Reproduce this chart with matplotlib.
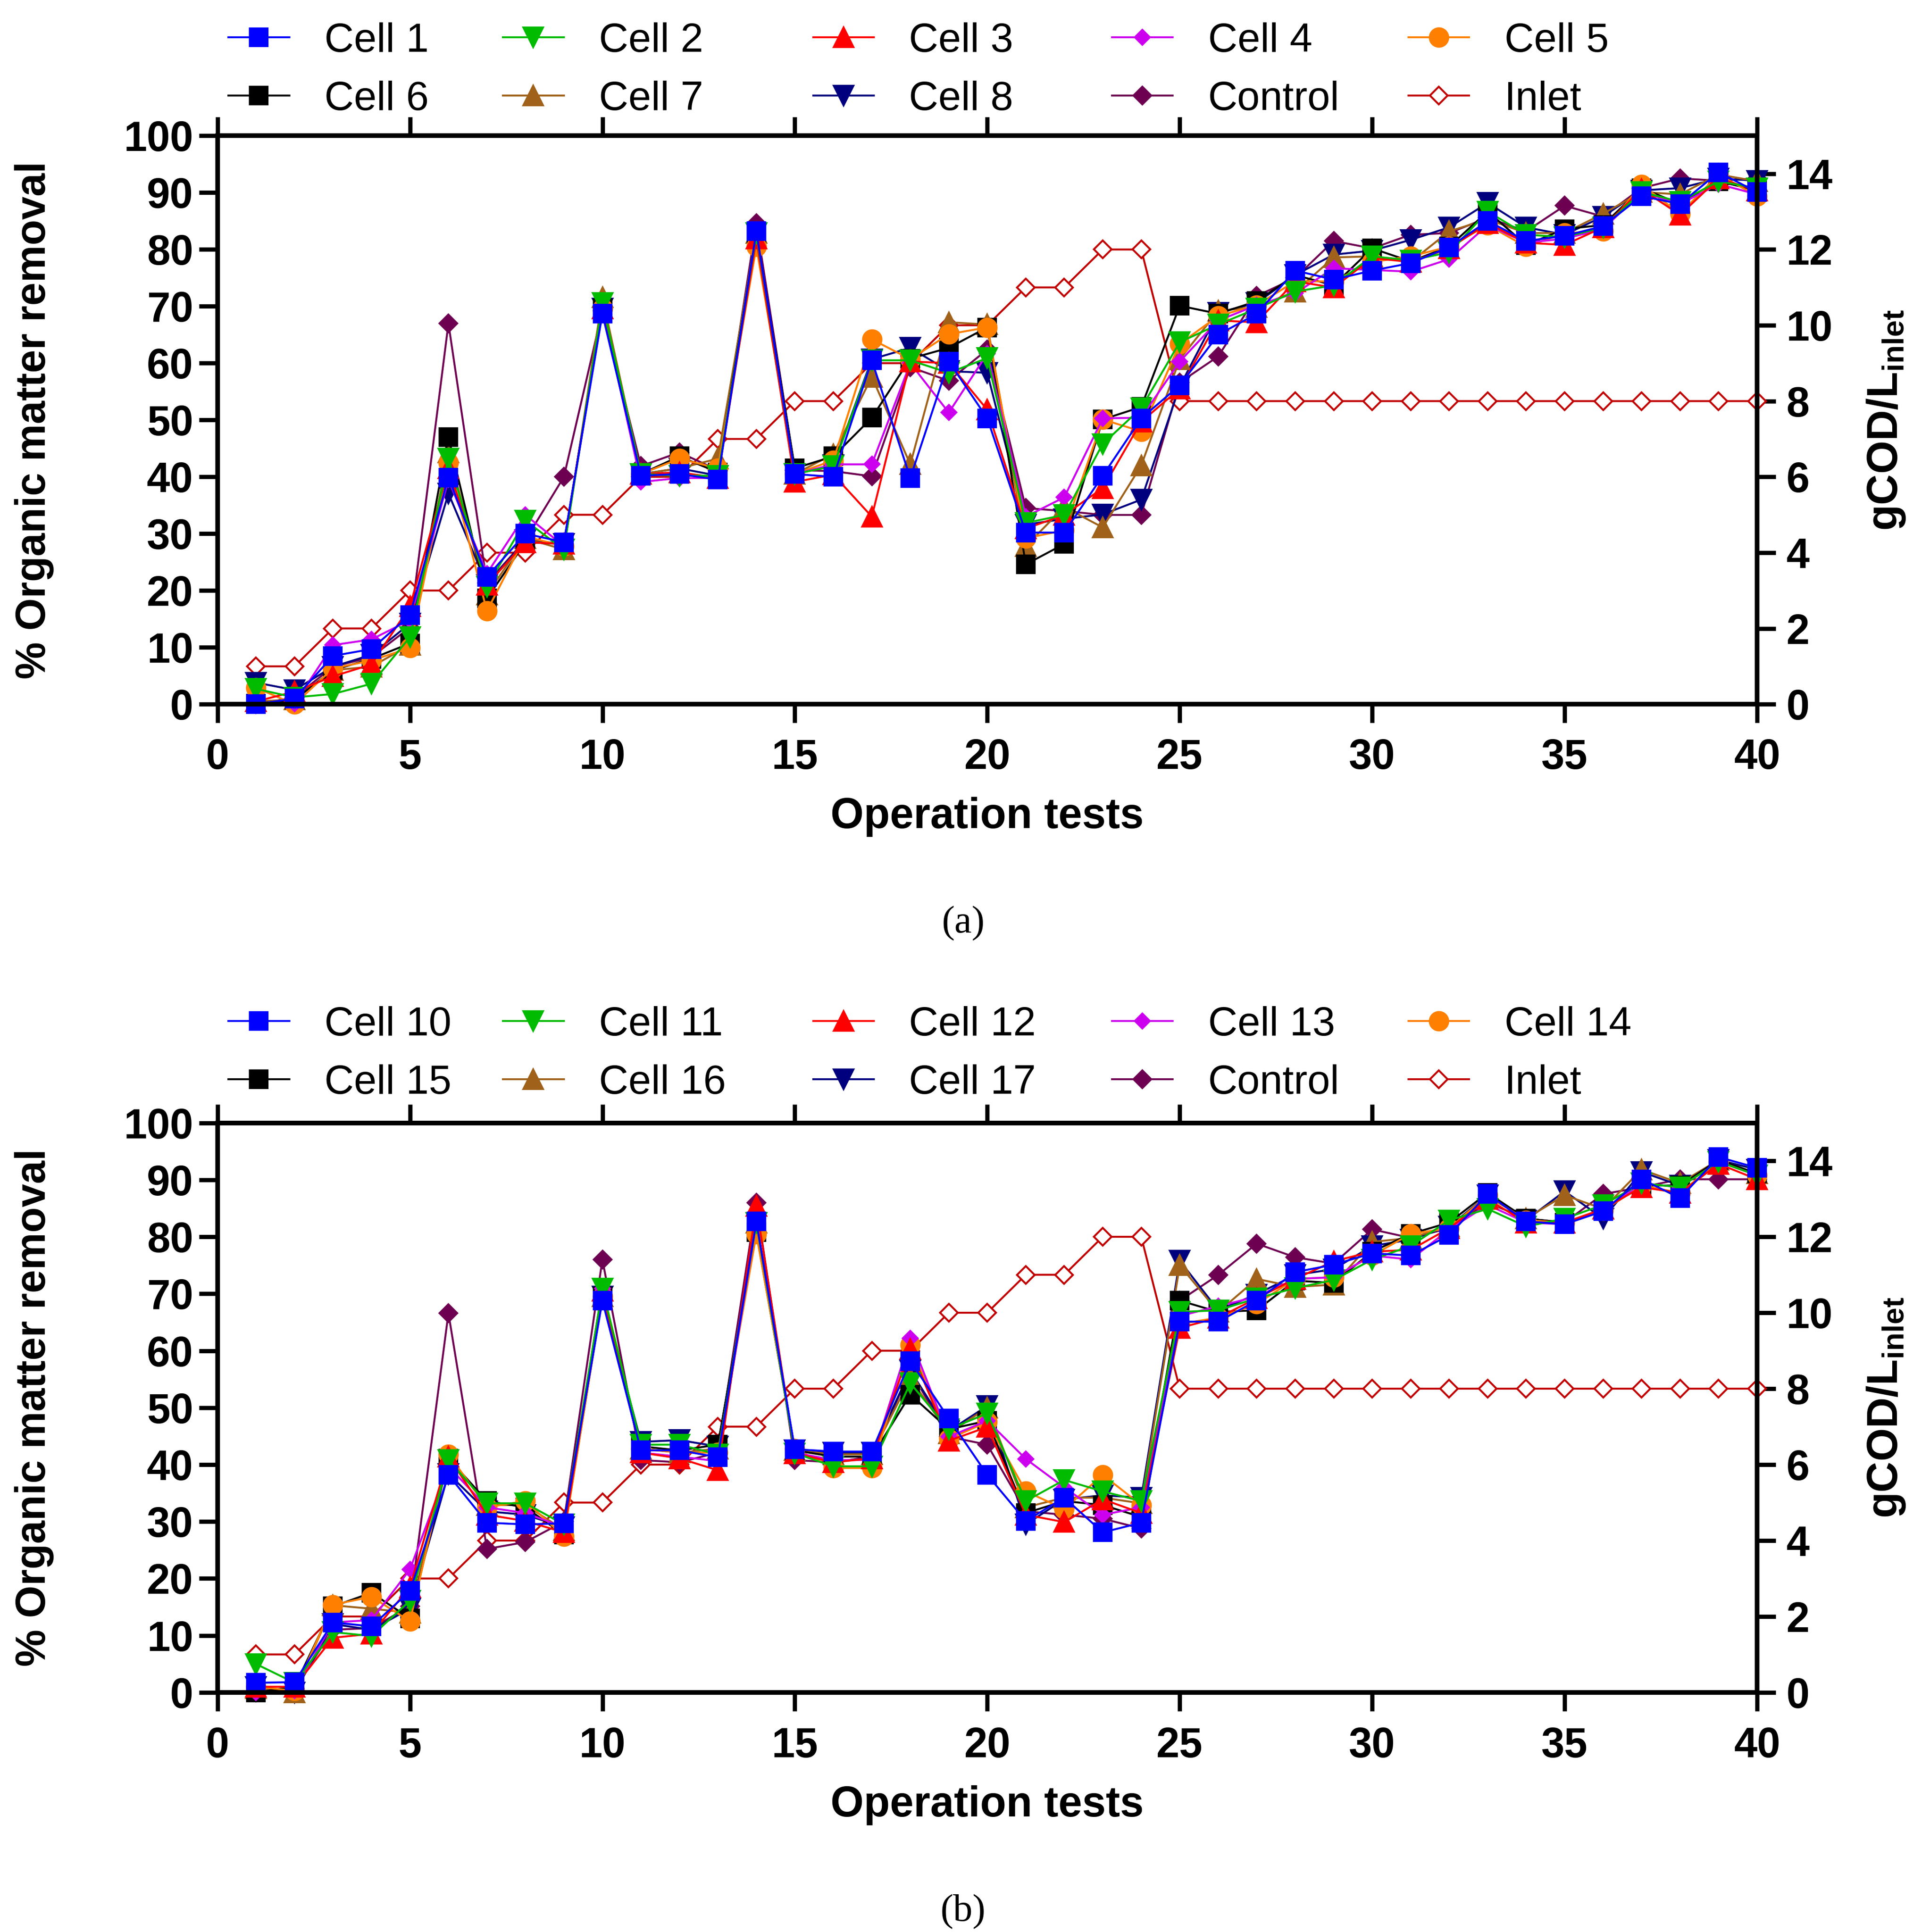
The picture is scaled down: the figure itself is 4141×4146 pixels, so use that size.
import matplotlib
matplotlib.use("Agg")
import matplotlib.pyplot as plt

plt.rcParams["font.family"] = ["Liberation Sans", "DejaVu Sans"]
plt.rcParams["mathtext.fontset"] = "custom"
plt.rcParams["mathtext.rm"] = "Liberation Sans:bold"
plt.rcParams["mathtext.it"] = "Liberation Sans:bold"
plt.rcParams["mathtext.bf"] = "Liberation Sans:bold"

TESTS = list(range(1, 41))
INLET = [1, 1, 2, 2, 3, 3, 4, 4, 5, 5, 6, 6, 7, 7, 8, 8, 9, 9, 10, 10,
         11, 11, 12, 12, 8, 8, 8, 8, 8, 8, 8, 8, 8, 8, 8, 8, 8, 8, 8, 8]

# ---- panel (a) ----
LABELS_A = ["Cell 1", "Cell 2", "Cell 3", "Cell 4", "Cell 5",
            "Cell 6", "Cell 7", "Cell 8", "Control", "Inlet"]
cell1 = [0, 1, 8.5, 9.7, 15.7, 39.9, 22.4, 30, 28.5, 68.7, 40.2, 40.5, 39.5, 83.2, 40.5, 40, 60.5, 39.8, 60.3, 50.3,
         30.2, 30.2, 40.2, 50.3, 56.1, 65, 68.7, 76.3, 74.7, 76.3, 77.6, 80.4, 85, 81.5, 82.4, 84.1, 89.4, 88, 93.6, 90.1]
cell2 = [2.7, 1.2, 1.8, 3.6, 11.8, 43.2, 20.7, 32.3, 27.2, 70.6, 40.5, 40.2, 40.2, 82.9, 40.5, 41.9, 60.5, 60.5, 58.3, 60.9,
         31.9, 33.3, 45.8, 52.1, 63.7, 66.8, 69.6, 72.6, 73.7, 78.8, 78.1, 79.5, 86.7, 82.6, 82.2, 83.9, 90.1, 88.4, 92, 90.8]
cell3 = [0.5, 2.2, 4.9, 7, 17.2, 41.5, 21, 28.5, 28.2, 69.6, 40.5, 40.8, 39.8, 81.9, 39.1, 40.4, 33, 60.3, 60, 51.8,
         30.9, 33.3, 38, 49.7, 55.5, 67.5, 67.2, 74.4, 73.3, 78.5, 77.8, 80.2, 84.6, 81.2, 80.8, 83.9, 90.6, 86.1, 92.5, 90.4]
cell4 = [0.1, 0.1, 10.4, 11.4, 14.8, 39.5, 23, 33.3, 27.8, 69.6, 39.1, 39.8, 39.8, 82.9, 40.5, 42.2, 42.2, 60, 51.3, 61.7,
         33, 36.4, 50.3, 50.4, 60.3, 67.5, 70.2, 72.3, 76.7, 76.4, 76.1, 78.3, 84.3, 81.2, 81.9, 83.6, 90.1, 88, 91.5, 89.7]
cell5 = [2.9, 0, 6.3, 7.7, 9.9, 42.5, 16.4, 29.5, 27.8, 69.6, 40.5, 43.2, 41.5, 80.5, 40.5, 42.9, 64.2, 60.7, 65.1, 66.3,
         29.2, 30.6, 50.1, 48, 63.4, 68.3, 70.2, 74.4, 74.4, 77.8, 78.8, 80.5, 84.3, 80.5, 82.9, 83.2, 91.4, 86.3, 93.2, 89.4]
cell6 = [0.1, 0.8, 6, 8, 10.7, 47, 18.6, 28.5, 28.2, 69.6, 40.5, 43.6, 40.8, 82.9, 41.5, 43.6, 50.4, 60.8, 62.7, 66.3,
         24.6, 28.2, 50.1, 52.3, 70.1, 68.7, 70.9, 75.5, 73.7, 80.2, 77.9, 80.5, 86.7, 80.8, 83.6, 84.3, 90.8, 88, 92, 90.4]
cell7 = [0.5, 0.8, 6, 6.6, 10.4, 44.3, 19.3, 29.2, 27.2, 71.6, 40.5, 41.5, 43.2, 82.9, 40.5, 44, 57.6, 42.2, 67.2, 66.8,
         27.8, 34.7, 31.1, 42, 60.7, 69.2, 69.9, 72.6, 78.6, 78.8, 77.8, 83.2, 85.3, 82.9, 82.9, 86.3, 90.1, 89.7, 93.2, 92]
cell8 = [3.8, 2.5, 6.6, 8.7, 14.2, 37.1, 21, 28.9, 28.2, 69.6, 40.5, 41.5, 40.2, 82.9, 40.5, 42.1, 60.7, 62.7, 58.6, 58.3,
         31.6, 32.6, 33.4, 36, 55.9, 68.9, 70.6, 75.5, 79.1, 79.8, 81.7, 83.9, 88.2, 83.9, 82.6, 85.8, 90.4, 90.8, 92.5, 92.1]
control_a = [0, 1.2, 6.6, 8.3, 13.5, 67, 21.3, 28.9, 40, 69.2, 41.9, 44.3, 41.2, 84.6, 41.2, 41, 40.1, 59.3, 56.9, 62.4,
             34.5, 34, 33.3, 33.3, 56.6, 61.2, 71.8, 75, 81.5, 80.2, 82.6, 82.9, 85.6, 83.2, 87.7, 85.8, 90.8, 92.5, 92.1, 92.5]

# ---- panel (b) ----
LABELS_B = ["Cell 10", "Cell 11", "Cell 12", "Cell 13", "Cell 14",
            "Cell 15", "Cell 16", "Cell 17", "Control", "Inlet"]
cell10 = [1.7, 1.8, 12.3, 11.6, 17.8, 38.2, 29.8, 29.5, 29.7, 68.8, 42.5, 42.5, 41.3, 82.7, 42.7, 42.3, 42.3, 58.2, 48.1, 38.2,
          30.1, 34.2, 28.1, 29.8, 65.1, 65.1, 68.8, 73.8, 75.1, 77.1, 76.7, 80.3, 87.5, 82.7, 82.2, 84.5, 90.1, 86.8, 94, 92.1]
cell11 = [5, 1.7, 10.6, 9.9, 16.1, 40.8, 33.2, 33.2, 29.5, 70.9, 43.5, 43.5, 41.8, 82.5, 42, 39.7, 39.7, 54.3, 46.2, 49,
          33.6, 37.3, 35.3, 33.6, 66.8, 67.1, 69.2, 71, 72.4, 76, 78.4, 82.9, 84.9, 81.8, 83.2, 85.6, 89.4, 88.7, 93.2, 90.8]
cell12 = [1, 1, 9.6, 10.3, 18.5, 41.4, 31.2, 30.1, 28.1, 70.5, 42.1, 41.1, 39, 85.4, 42, 40.4, 41.1, 60.3, 44.2, 46.6,
          31.2, 29.9, 33.9, 31.5, 64, 65.8, 69.2, 72.6, 75.7, 77.4, 77.7, 81.5, 86.6, 82.5, 82.5, 84.9, 88.7, 87.7, 92.8, 90.1]
cell13 = [0, 0.3, 12.3, 12.7, 21.6, 39.7, 32.5, 31.5, 29, 70.9, 42.1, 41.4, 40.6, 82.5, 42.1, 40.8, 40.8, 62.2, 44.9, 47.7,
          41, 36, 31.2, 32.5, 66.1, 67.8, 69.5, 72.6, 72.9, 76.7, 76, 81.3, 85.6, 82.5, 82.2, 84.6, 89.4, 88.7, 93.2, 90.8]
cell14 = [1, 0.3, 15.4, 16.8, 12.5, 41.8, 32.5, 33.6, 27.4, 69.5, 42.8, 42.1, 42.1, 80.5, 42.8, 39.4, 39.4, 61, 44.5, 47.5,
          35.3, 32.2, 38.2, 32.9, 64.7, 65.8, 68.2, 72.6, 72.9, 76.7, 80.5, 81.5, 87.3, 82.9, 82.5, 84.6, 89, 87.7, 93.2, 90.8]
cell15 = [0, 1, 15.1, 17.5, 13, 41.1, 33.6, 32.5, 27.7, 69.5, 43.2, 42.5, 43.5, 80.8, 42.5, 41.4, 41.4, 52.3, 46.2, 47.7,
          31.5, 33.6, 32.9, 30.8, 68.8, 66.8, 67.1, 72.3, 71.9, 77.4, 80.5, 82.5, 87.7, 83.2, 82.5, 84.6, 89, 89, 93.5, 91.1]
cell16 = [0.7, 0, 15.3, 14.7, 14, 41.4, 32.9, 32.9, 28.5, 69.5, 42.8, 42.1, 42.8, 82.5, 42.5, 41.8, 41.8, 55.1, 45.5, 50,
          32.5, 34.2, 34.2, 33.2, 75, 66.8, 72.6, 71.2, 71.6, 79.1, 79.8, 81.8, 87, 83.2, 87.3, 84.9, 91.8, 89.4, 93.5, 91.1]
cell17 = [1, 0, 12, 11, 14.7, 38.4, 31.8, 31.2, 29, 69.5, 44, 44.3, 43.2, 82.5, 42.5, 42.1, 42.1, 56.5, 45.9, 50.3,
          29.5, 33.9, 34.6, 34.2, 75.8, 67.1, 69.9, 73.3, 74.3, 78.4, 79.5, 81.8, 87.3, 82.9, 88, 83.2, 91.4, 89, 93.5, 91.8]
control_b = [0, 0.7, 11, 11.3, 15.1, 66.6, 25.2, 26.4, 30, 76, 40.8, 40.4, 42.1, 86, 40.8, 40.4, 41.4, 56.5, 44.9, 43.5,
             31.8, 31.2, 30.5, 28.8, 68.8, 73.3, 78.8, 76.4, 75.3, 81.3, 79.8, 81.5, 86, 83.2, 82.5, 87.5, 88.7, 90.1, 90.1, 90.1]

SERIES_A = [cell1, cell2, cell3, cell4, cell5, cell6, cell7, cell8, control_a]
SERIES_B = [cell10, cell11, cell12, cell13, cell14, cell15, cell16, cell17, control_b]

# style per slot: (color, marker, markersize)
STYLES = [
    ("#0000FF", "s", 9),
    ("#00BB00", "v", 10),
    ("#FF0000", "^", 10),
    ("#CC00EE", "D", 5.5),
    ("#FF8000", "o", 9.5),
    ("#000000", "s", 9),
    ("#A0621A", "^", 10),
    ("#00007F", "v", 10),
    ("#6E0052", "D", 6.5),
]
INLET_COLOR = "#C00000"

TICK_FONT = dict(family="Liberation Sans", weight="bold", size=21.5)
LEG_X = [0.1184, 0.2606, 0.4213, 0.5762, 0.7298]

fig = plt.figure(figsize=(4141 / 300, 4146 / 300), dpi=300)


def draw_panel(rect, series, labels, leg_y, caption, cap_y):
    ax = fig.add_axes(rect)
    ax2 = ax.twinx()
    # inlet (right axis) sits underneath the cell curves
    ax.set_zorder(ax2.get_zorder() + 1)
    ax.patch.set_visible(False)
    handles = [None] * 10
    # draw in reverse so Cell 1 ends on top
    for i in reversed(range(9)):
        c, m, ms = STYLES[i]
        h, = ax.plot(TESTS, series[i], color=c, marker=m, markersize=ms,
                     markeredgecolor=c, markerfacecolor=c, linewidth=1.0,
                     label=labels[i], clip_on=False)
        handles[i] = h
    hi, = ax2.plot(TESTS, INLET, color=INLET_COLOR, marker="D", markersize=6.5,
                   markerfacecolor="white", markeredgecolor=INLET_COLOR,
                   markeredgewidth=1.0, linewidth=1.0, label=labels[9], clip_on=False)
    handles[9] = hi

    ax.set_xlim(0, 40)
    ax.set_ylim(0, 100)
    ax2.set_ylim(0, 15)
    ax.set_xticks(range(0, 41, 5))
    ax.set_yticks(range(0, 101, 10))
    ax2.set_yticks(range(0, 15, 2))

    for a in (ax, ax2):
        for s in a.spines.values():
            s.set_linewidth(2.4)
    ax.tick_params(axis="both", direction="out", length=9.5, width=2.2,
                   top=True, labeltop=False)
    ax.tick_params(axis="y", pad=3)
    ax.tick_params(axis="x", pad=8)
    ax2.tick_params(axis="y", direction="out", length=9.5, width=2.2, pad=5.5)
    for lab in ax.get_xticklabels() + ax.get_yticklabels() + ax2.get_yticklabels():
        lab.set_fontproperties(TICK_FONT)

    ax.set_xlabel("Operation tests", fontsize=22, fontweight="bold")
    ax.xaxis.set_label_coords(0.5, -0.198)
    ax.xaxis.label.set_va("center")
    ax.set_ylabel("% Organic matter removal", fontsize=21.5, fontweight="bold")
    ax.yaxis.set_label_coords(-0.119, 0.5)
    ax.yaxis.label.set_va("center")
    ax2.set_ylabel(r"gCOD/L$_{\mathrm{inlet}}$", fontsize=22, fontweight="bold")
    ax2.yaxis.set_label_coords(1.084, 0.5)
    ax2.yaxis.label.set_va("center")

    # legend laid out as 5 columns x 2 rows above the plot
    for j in range(5):
        fig.legend([handles[j], handles[j + 5]], [labels[j], labels[j + 5]],
                   loc="center left", bbox_to_anchor=(LEG_X[j], leg_y),
                   frameon=False, fontsize=21, handlelength=1.49,
                   handletextpad=0.86, borderpad=0, borderaxespad=0,
                   labelspacing=0.5)

    fig.text(0.499, cap_y, caption, ha="center", va="center",
             family="Liberation Serif", fontsize=20)
    return ax


draw_panel([0.1127, 0.6355, 0.7977, 0.2942], SERIES_A, LABELS_A, 0.9636, "(a)", 0.522)
draw_panel([0.1127, 0.124, 0.7977, 0.2948], SERIES_B, LABELS_B, 0.4545, "(b)", 0.0105)

fig.savefig("out.png", dpi=300)
